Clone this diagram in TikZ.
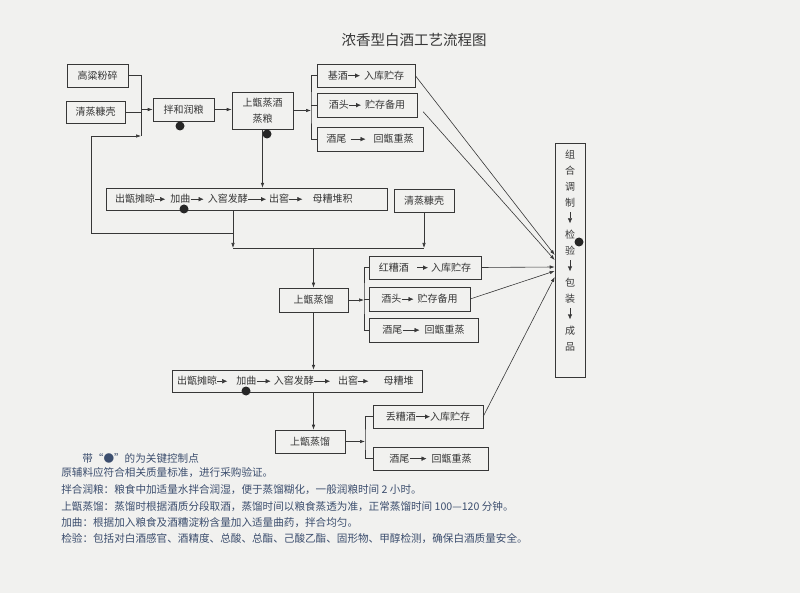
\documentclass[tikz,border=0pt]{standalone}
\usepackage{fontspec}
\newfontfamily\cjk{Noto Sans CJK SC}
\usetikzlibrary{arrows.meta,positioning}
\definecolor{inkc}{RGB}{55,55,55}
\definecolor{notec}{RGB}{60,78,110}
\definecolor{paperc}{RGB}{241,241,239}
\newcommand\harr[1][9pt]{\tikz[baseline=-3.6pt]\draw[-{Latex[length=5pt,width=4.5pt]}] (0pt,0pt) -- (#1,0pt);}
\newcommand\varr{\tikz[baseline=0pt]\draw[-{Latex[length=5pt,width=4.5pt]}] (0pt,10pt) -- (0pt,-1pt);}
\tikzset{
  box/.style={draw, inner sep=0pt, minimum height=23pt, font=\cjk\fontsize{10}{12}\selectfont},
  ctrl/.style={circle, fill=black!85, inner sep=0pt, minimum size=9pt},
  note/.style={anchor=west, inner sep=0pt, text=notec, font=\cjk\fontsize{10.6}{12}\selectfont}
}
\begin{document}
\begin{tikzpicture}[x=1pt,y=-1pt,color=inkc,line width=0.6pt,>={Latex[length=5pt,width=3.5pt]}]
\fill[paperc] (0,0) rectangle (800,593);
\useasboundingbox (0,0) rectangle (800,593);
\node[font=\cjk\fontsize{14.5}{16}\selectfont] (title) at (414,40) {浓香型白酒工艺流程图};
% first distillation
\node[box, minimum width=61pt] (gl) at (97.5,75.5) {高粱粉碎};
\node[box, minimum width=59pt, minimum height=22pt] (qz1) at (95.5,112) {清蒸糠壳};
\node[box, minimum width=61pt] (bh) at (183.5,109.5) {拌和润粮};
\node[box, minimum width=61pt, minimum height=37pt, align=center, font=\cjk\fontsize{10}{16}\selectfont] (szj) at (262.5,110.5) {上甑蒸酒\\蒸粮};
\node[ctrl] (d1) at (180,126) {};
\node[ctrl] (d2) at (267,134) {};
\node[box, minimum width=98pt] (jj) at (366,75.5) {基酒\harr[12pt]\hspace{4pt}入库贮存};
\node[box, minimum width=100pt, minimum height=24pt] (jt) at (367,105) {酒头\harr[12pt]\hspace{4pt}贮存备用};
\node[box, minimum width=106pt, minimum height=24pt] (jw) at (370,139) {酒尾\hspace{4pt}\harr[15pt]\hspace{8pt}回甑重蒸};
% blending
\node[box, minimum width=30pt, minimum height=234pt] (zh) at (570,260) {};
\node[below=7pt of zh.north, align=center, inner sep=0pt, font=\cjk\fontsize{10}{16}\selectfont] (zhtxt) {组\\合\\调\\制\\\varr\\检\\验\\\varr\\包\\装\\\varr\\成\\品};
\node[ctrl] (d5) at (579,242) {};
% second round
\node[box, minimum width=281pt, minimum height=22pt, text width=263pt, align=left] (cj1) at (246.5,199) {出甑摊晾\harr[10pt]\hspace{5pt}加曲\harr[13pt]\hspace{4pt}入窖发酵\harr[18pt]\hspace{3pt}出窖\harr[13pt]\hspace{10pt}母糟堆积};
\node[ctrl] (d3) at (184,209) {};
\node[box, minimum width=60pt] (qz2) at (424,200.5) {清蒸糠壳};
\node[box, minimum width=69pt, minimum height=24pt] (szl1) at (313.5,300) {上甑蒸馏};
\node[box, minimum width=112pt] (hz) at (425,267.5) {红糟酒\hspace{8pt}\harr[11pt]\hspace{3pt}入库贮存};
\node[box, minimum width=101pt, minimum height=24pt] (jt2) at (419.5,299) {酒头\harr[12pt]\hspace{4pt}贮存备用};
\node[box, minimum width=109pt, minimum height=24pt] (jw2) at (423.5,330) {酒尾\harr[17pt]\hspace{5pt}回甑重蒸};
% third round
\node[box, minimum width=250pt, minimum height=22pt, text width=240pt, align=left] (cj2) at (297,381) {出甑摊晾\harr[10pt]\hspace{9pt}加曲\harr[14pt]\hspace{3pt}入窖发酵\harr[16pt]\hspace{8pt}出窖\harr[10pt]\hspace{15pt}母糟堆};
\node[ctrl] (d4) at (246,391) {};
\node[box, minimum width=70pt] (szl2) at (310,441.5) {上甑蒸馏};
\node[box, minimum width=110pt] (dz) at (428,416.5) {丢糟酒\harr[14pt]入库贮存};
\node[box, minimum width=115pt] (jw3) at (430.5,458.5) {酒尾\harr[17pt]\hspace{5pt}回甑重蒸};
% connectors
\coordinate (col) at (141,136);
\coordinate (back) at (91,136);
\coordinate (lp) at (233,233);
\coordinate (j1) at (233,248);
\coordinate (m1) at (313.5,248);
\coordinate (br1) at (311,108);
\coordinate (br2) at (364,298);
\coordinate (br3) at (365,442);
\draw (gl.east) -| (col);
\draw (qz1.east) -- (qz1.east -| col);
\draw[->] (bh.west -| col) -- (bh.west);
\draw[->] (lp) -| (back) -- (col);
\draw[->] (bh.east) -- (bh.east -| szj.west);
\draw[->] (szj.east) -- (szj.east -| br1);
\draw (jj.west) -| (br1) |- (jw.west);
\draw (jt.west) -- (jt.west -| br1);
\draw[->] (szj.south) -- (szj.south |- cj1.north);
\draw[->] (cj1.south -| j1) -- (j1);
\draw[->] (qz2.south) -- (qz2.south |- j1);
\draw (j1) -- (qz2.south |- j1);
\draw[->] (m1) -- (szl1.north);
\draw[->] (szl1.east) -- (szl1.east -| br2);
\draw (hz.west) -| (br2) |- (jw2.west);
\draw (jt2.west) -- (jt2.west -| br2);
\draw[->] (szl1.south) -- (szl1.south |- cj2.north);
\draw[->] (szl1.south |- cj2.south) -- (szl1.south |- szl2.north);
\draw[->] (szl2.east) -- (szl2.east -| br3);
\draw (dz.west) -| (br3) |- (jw3.west);
\draw[->] (jj.east) -- ([yshift=5pt]zh.west);
\draw[->, shorten <=9pt] (jt.east) -- (zh.west);
\draw[->] (hz.east) -- ([yshift=-7pt]zh.west);
\draw[->] (jt2.east) -- ([yshift=-11pt]zh.west);
\draw[->] (dz.east) -- ([yshift=-17pt]zh.west);
% notes
\node[note] (n0) at (82,458) {带“●”的为关键控制点};
\node[note] (n1) at (61,473) {原辅料应符合相关质量标准，进行采购验证。};
\node[note] (n2) at (61,490) {拌合润粮：粮食中加适量水拌合润湿，便于蒸馏糊化，一般润粮时间 2 小时。};
\node[note] (n3) at (61,507) {上甑蒸馏：蒸馏时根据酒质分段取酒，蒸馏时间以粮食蒸透为准，正常蒸馏时间 100—120 分钟。};
\node[note] (n4) at (61,523) {加曲：根据加入粮食及酒糟淀粉含量加入适量曲药，拌合均匀。};
\node[note] (n5) at (61,539) {检验：包括对白酒感官、酒精度、总酸、总酯、己酸乙酯、固形物、甲醇检测，确保白酒质量安全。};
\end{tikzpicture}
\end{document}
